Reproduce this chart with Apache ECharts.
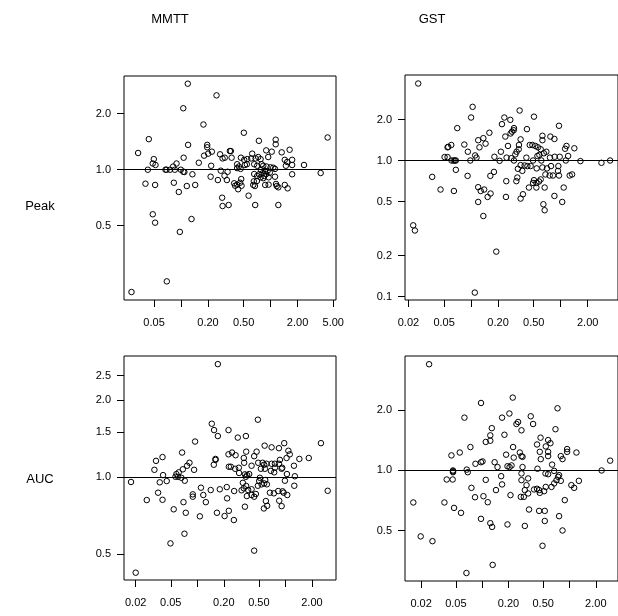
<!DOCTYPE html>
<html><head><meta charset="utf-8">
<script src="https://cdn.jsdelivr.net/npm/echarts@6/dist/echarts.min.js"></script>
<style>html,body{margin:0;padding:0;background:#fff}#c{width:618px;height:616px}</style>
</head><body><div id="c"></div>
<script>
// ---- Data (ratio values) ----
const mmttPeakX = [0.119,0.249,0.106,0.178,0.0437,0.0332,0.120,0.196,0.196,0.181,0.201,0.221,0.273,0.291,0.308,0.351,0.0497,0.0484,0.0519,0.107,0.0891,0.0817,0.158,0.217,0.0426,0.0671,0.0689,0.0755,0.0853,0.0995,0.106,0.109,0.278,0.306,0.331,0.325,0.214,0.258,0.134,0.0401,0.0514,0.0832,0.116,0.144,0.0945,0.288,0.291,0.340,0.0484,0.0514,0.131,0.0970,0.0694,0.0280,
0.503,0.740,1.14,1.14,0.360,0.893,1.03,1.33,1.63,0.367,0.466,0.507,0.548,0.607,0.623,0.680,0.727,0.773,0.94,1.44,1.74,1.53,1.48,1.74,2.36,
0.423,0.442,0.423,0.462,0.516,0.543,0.656,0.708,0.793,0.828,0.902,1.0,1.07,1.12,
0.78,0.864,0.925,0.98,
0.656,0.708,0.746,0.814,0.773,0.828,0.849,0.893,0.95,1.12,
0.64,0.668,0.87,0.95,1.15,1.17,1.22,1.44,1.55,
0.392,0.423,0.47,0.457,0.434,0.402,0.474,
0.703,0.65,1.74,3.62,4.33,0.568,0.673,1.22];
const mmttPeakY = [2.90,2.51,2.14,1.75,1.46,1.23,1.36,1.36,1.32,1.19,1.22,1.25,1.21,1.15,1.16,1.26,1.14,1.08,1.06,1.16,1.08,1.04,1.09,1.05,1.0,1.0,1.0,1.0,1.0,1.0,0.975,0.972,0.988,0.928,0.975,0.880,0.917,0.880,0.945,0.841,0.828,0.851,0.817,0.828,0.759,0.707,0.638,0.646,0.576,0.519,0.543,0.463,0.251,0.220,
1.58,1.43,1.45,1.37,1.26,1.27,1.25,1.24,1.28,1.16,1.16,1.13,1.14,1.15,1.22,1.15,1.17,1.14,1.17,1.13,1.13,1.10,1.05,1.06,1.06,
1.07,1.04,1.02,1.01,1.06,1.07,1.07,1.05,1.07,1.05,1.04,1.03,1.025,1.01,
0.996,0.984,0.984,0.964,
0.948,0.925,0.945,0.956,0.91,0.90,0.925,0.948,0.91,0.917,
0.828,0.817,0.828,0.831,0.838,0.817,0.804,0.828,0.794,
0.845,0.831,0.891,0.851,0.785,0.82,0.82,
0.87,0.866,0.945,0.96,1.49,0.725,0.646,0.646];

const gstPeakX = [0.0257,0.104,0.100,0.235,0.221,0.0701,0.160,0.241,0.137,0.12,0.145,0.084,0.124,0.0601,0.0546,0.0556,0.092,0.111,0.115,0.215,0.182,0.208,0.249,0.0506,0.0546,0.0605,0.0637,0.0659,0.0676,0.098,0.0676,0.0368,0.0914,0.164,0.18,0.247,0.0456,0.0643,0.12,0.128,0.14,0.165,0.153,0.245,0.12,0.137,0.0226,0.0236,0.191,0.110,
0.348,0.503,0.274,0.301,0.299,0.286,0.276,0.42,0.357,0.342,0.34,0.258,0.451,0.483,0.521,0.557,0.598,0.625,0.625,0.767,0.851,0.957,1.12,1.16,1.42,0.692,0.65,0.322,0.312,0.414,0.281,0.301,0.55,0.578,0.491,0.608,0.759,0.857,0.975,1.14,1.21,1.66,2.85,3.56,
0.357,0.396,0.333,0.373,0.425,0.462,0.539,0.625,0.703,0.78,0.942,0.933,0.675,0.753,0.82,0.957,1.26,1.34,0.598,0.573,0.535,0.503,0.491,0.328,0.32,0.442,0.535,0.662,1.08,0.379,0.357,0.851,1.04,0.641,0.662];
const gstPeakY = [3.68,2.48,2.07,2.07,1.85,1.73,1.60,1.50,1.46,1.41,1.33,1.31,1.25,1.30,1.25,1.26,1.16,1.09,1.05,1.16,1.065,0.995,1.05,1.06,1.06,1.0,1.0,1.0,1.0,1.0,0.854,0.758,0.771,0.771,0.825,0.705,0.612,0.597,0.637,0.597,0.612,0.572,0.54,0.54,0.496,0.391,0.334,0.306,0.214,0.107,
2.33,2.10,1.99,1.73,1.67,1.63,1.58,1.70,1.43,1.30,1.21,1.28,1.30,1.30,1.28,1.25,1.21,1.52,1.41,1.50,1.44,1.80,1.22,1.28,1.23,1.16,1.13,1.16,1.11,1.05,1.04,1.0,1.08,1.10,1.0,1.0,1.05,1.065,1.065,1.0,1.08,0.99,0.962,1.0,
0.925,0.92,0.869,0.839,0.91,0.91,0.875,0.889,0.875,0.91,0.91,0.839,0.79,0.776,0.776,0.776,0.776,0.79,0.726,0.701,0.684,0.717,0.684,0.75,0.705,0.633,0.633,0.633,0.633,0.565,0.525,0.549,0.496,0.477,0.431];

const mmttAucX = [0.171,0.146,0.155,0.171,0.226,0.0944,0.0672,0.226,0.161,0.161,0.154,0.228,0.034,0.0403,0.0326,0.0409,0.0815,0.0766,0.0685,0.092,0.0616,0.058,0.0565,0.0605,0.066,0.0721,0.0177,0.0375,0.045,0.0359,0.0403,0.0267,0.0697,0.0889,0.0889,0.11,0.117,0.125,0.142,0.180,0.216,0.218,0.054,0.074,0.107,0.167,0.204,0.228,0.0715,0.0496,0.02,
0.487,0.288,0.356,0.248,0.272,0.359,0.337,0.442,0.471,0.581,0.697,0.844,0.969,2.53,1.08,1.12,1.03,1.44,1.84,0.24,0.269,0.296,0.298,0.34,0.413,0.347,0.368,0.388,0.356,
0.491,0.551,0.574,0.611,0.697,0.76,0.844,0.527,0.585,0.76,0.92,0.684,0.746,0.906,0.866,1.25,1.28,1.26,0.59,0.574,0.513,0.504,0.537,0.487,0.616,0.987,1.04,0.329,0.359,0.413,0.337,0.318,0.378,0.365,0.413,0.442,0.462,0.262,0.26,0.347,0.57,0.621,0.60,0.667,0.74,0.828,0.955,0.929,1.05,0.851,0.906,3.02,0.442];
const mmttAucY = [2.77,1.62,1.53,1.45,1.53,1.38,1.25,1.23,1.18,1.17,1.12,1.10,1.16,1.20,1.07,1.02,1.14,1.11,1.075,1.07,1.046,1.03,1.005,1.005,0.996,0.97,0.959,0.956,0.967,0.871,0.817,0.815,0.80,0.858,0.84,0.911,0.853,0.80,0.892,0.898,0.916,0.828,0.75,0.727,0.704,0.727,0.706,0.74,0.602,0.552,0.424,
1.68,1.43,1.45,1.25,1.22,1.26,1.19,1.21,1.26,1.33,1.31,1.30,1.36,1.36,1.27,1.23,1.19,1.18,1.19,1.10,1.08,1.09,1.04,1.14,1.11,1.027,1.02,1.03,1.005,
1.14,1.14,1.12,1.13,1.13,1.13,1.13,1.08,1.08,1.09,1.09,1.06,1.046,1.08,1.17,1.11,1.01,0.927,0.976,0.947,0.996,0.967,0.939,0.927,0.939,0.97,1.03,0.952,0.925,0.898,0.906,0.89,0.892,0.845,0.853,0.84,0.861,0.884,0.681,0.768,0.756,0.774,0.808,0.871,0.866,0.884,0.871,0.882,0.853,0.81,0.772,0.886,0.517];

const gstAucX = [0.0247,0.0971,0.0627,0.169,0.205,0.129,0.124,0.124,0.11,0.18,0.0734,0.0554,0.0445,0.0838,0.097,0.101,0.188,0.139,0.15,0.195,0.0464,0.0464,0.0464,0.0667,0.0684,0.0393,0.046,0.11,0.165,0.169,0.144,0.0754,0.0829,0.0163,0.037,0.0477,0.0573,0.1035,0.116,0.097,0.124,0.13,0.195,0.0198,0.027,0.132,0.0661,
0.224,0.729,0.258,0.247,0.282,0.36,0.383,0.691,0.466,0.425,0.457,0.569,0.605,0.535,0.569,0.569,0.469,0.226,0.23,0.27,0.282,0.29,0.206,0.217,0.29,0.43,0.632,0.795,0.832,0.939,0.939,1.20,2.33,2.92,
0.211,0.277,0.30,0.308,0.282,0.282,0.336,0.336,0.322,
0.393,0.425,0.449,0.457,0.512,0.535,0.531,0.569,0.622,0.667,0.71,0.74,0.76,0.667,0.795,0.883,1.05,1.13,1.28,
0.344,0.449,0.521,0.521,0.76,0.832,0.308,0.491];
const gstAucY = [3.41,2.18,1.84,1.84,1.93,1.63,1.50,1.41,1.39,1.51,1.31,1.23,1.19,1.08,1.10,1.11,1.20,1.10,1.04,1.05,1.0,0.99,0.98,1.01,0.98,0.901,0.901,0.897,0.936,0.851,0.797,0.818,0.734,0.691,0.691,0.649,0.613,0.743,0.693,0.572,0.544,0.521,0.536,0.467,0.442,0.336,0.306,
2.32,2.05,1.75,1.71,1.59,1.87,1.71,1.61,1.46,1.35,1.24,1.42,1.37,1.32,1.24,1.18,1.14,1.31,1.16,1.23,1.18,1.17,1.04,1.06,1.04,1.02,1.07,1.18,1.14,1.28,1.24,1.23,1.0,1.12,
0.752,0.737,0.737,0.797,0.894,0.966,0.912,0.767,0.844,
0.803,0.809,0.797,0.772,0.787,0.827,0.966,0.958,0.827,0.861,0.894,0.929,0.947,0.995,0.887,0.71,0.844,0.818,0.887,
0.637,0.627,0.627,0.558,0.59,0.50,0.527,0.419];

// ---- Axis ticks, labels and ranges ----
const mmttPeakXTicks = [0.05,0.1,0.2,0.5,1,2,5];
const mmttPeakXLabels = [0.05,0.2,0.5,2,5];
const mmttPeakYTicks = [0.5,1,2];
const gstPeakYTicks = [0.1,0.2,0.5,1,2];
const lowXTicks = [0.02,0.05,0.1,0.2,0.5,1,2];
const lowXLabels = [0.02,0.05,0.2,0.5,2];
const mmttAucYTicks = [0.5,1,1.5,2,2.5];
const gstAucYTicks = [0.5,1,2];
const refLine = 1;

const mmttPeakXRange = [0.0231,5.37], mmttPeakYRange = [0.1993,3.19];
const gstPeakXRange = [0.0183,4.36], gstPeakYRange = [0.0944,4.25];
const mmttAucXRange = [0.01473,3.75], mmttAucYRange = [0.397,2.98];
const gstAucXRange = [0.01309,3.59], gstAucYRange = [0.279,3.75];

const colTitles = ['MMTT','GST'];
const rowTitles = ['Peak','AUC'];

// ---- Build chart ----
const L = Math.log10;
const FONT = 'Liberation Sans, Arial, Helvetica, sans-serif';
function pts(xs, ys){ const n = Math.min(xs.length, ys.length); const out=[]; for(let i=0;i<n;i++) out.push([L(xs[i]), L(ys[i])]); return out; }

const grids = [
  {left:124, top:76, width:212, height:224},
  {left:405, top:75, width:213, height:225},
  {left:124, top:356, width:212, height:224},
  {left:405, top:356, width:213, height:225}
].map(g => Object.assign(g, {show:true, borderColor:'#000', borderWidth:1, backgroundColor:'transparent'}));

function xAx(i, range, ticks, labels){
  return {type:'value', gridIndex:i, min:L(range[0]), max:L(range[1]),
    axisLine:{show:false, onZero:false}, splitLine:{show:false},
    axisTick:{show:true, length:7, lineStyle:{color:'#000', width:1}, customValues:ticks.map(L)},
    axisLabel:{show:true, customValues:labels.map(L), formatter:v=>Math.pow(10,v).toFixed(2),
      color:'#000', fontSize:11, fontFamily:FONT, margin:17}};
}
function yAx(i, range, ticks){
  return {type:'value', gridIndex:i, min:L(range[0]), max:L(range[1]),
    axisLine:{show:false, onZero:false}, splitLine:{show:false},
    axisTick:{show:true, length:7, lineStyle:{color:'#000', width:1}, customValues:ticks.map(L)},
    axisLabel:{show:true, customValues:ticks.map(L), formatter:v=>Math.pow(10,v).toFixed(1),
      color:'#000', fontSize:11, fontFamily:FONT, margin:13}};
}
function ser(i, xs, ys){
  return {type:'scatter', xAxisIndex:i, yAxisIndex:i, data:pts(xs, ys),
    symbol:'circle', symbolSize:5.5,
    itemStyle:{color:'rgba(0,0,0,0)', borderColor:'#000', borderWidth:1, opacity:1},
    silent:true,
    markLine:{silent:true, symbol:'none', animation:false, label:{show:false},
      lineStyle:{color:'#000', width:1, type:'solid'}, data:[{yAxis:L(refLine)}]}};
}

const chart = echarts.init(document.getElementById('c'), null, {renderer:'canvas'});
chart.setOption({
  animation:false,
  backgroundColor:'#fff',
  grid: grids,
  xAxis: [
    xAx(0, mmttPeakXRange, mmttPeakXTicks, mmttPeakXLabels),
    xAx(1, gstPeakXRange, lowXTicks, lowXLabels),
    xAx(2, mmttAucXRange, lowXTicks, lowXLabels),
    xAx(3, gstAucXRange, lowXTicks, lowXLabels)
  ],
  yAxis: [
    yAx(0, mmttPeakYRange, mmttPeakYTicks),
    yAx(1, gstPeakYRange, gstPeakYTicks),
    yAx(2, mmttAucYRange, mmttAucYTicks),
    yAx(3, gstAucYRange, gstAucYTicks)
  ],
  series: [
    ser(0, mmttPeakX, mmttPeakY),
    ser(1, gstPeakX, gstPeakY),
    ser(2, mmttAucX, mmttAucY),
    ser(3, gstAucX, gstAucY)
  ],
  graphic: [
    {type:'text', x:170, y:19, style:{text:colTitles[0], align:'center', verticalAlign:'middle', font:'13px '+FONT, fill:'#000'}},
    {type:'text', x:432, y:19, style:{text:colTitles[1], align:'center', verticalAlign:'middle', font:'13px '+FONT, fill:'#000'}},
    {type:'text', x:40, y:206, style:{text:rowTitles[0], align:'center', verticalAlign:'middle', font:'13px '+FONT, fill:'#000'}},
    {type:'text', x:40, y:479, style:{text:rowTitles[1], align:'center', verticalAlign:'middle', font:'13px '+FONT, fill:'#000'}}
  ]
});
</script></body></html>
